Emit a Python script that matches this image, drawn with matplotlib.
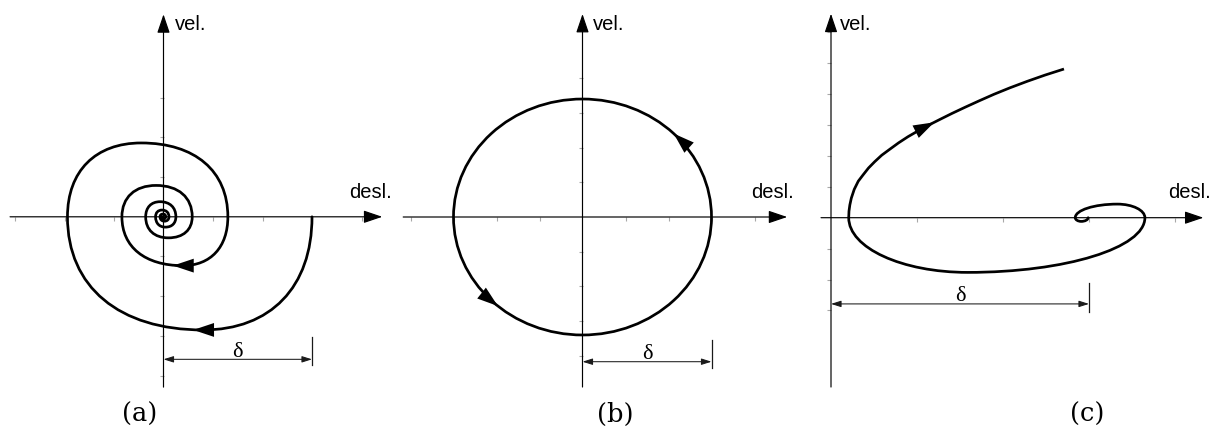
import numpy as np
import matplotlib.pyplot as plt
from matplotlib.path import Path
from matplotlib.patches import PathPatch, Ellipse

# (a) damped motion: x-axis crossings and the extreme point of each half-turn
a_cross = [3.0, -1.94, 1.30, -0.84, 0.58, -0.36, 0.25, -0.16, 0.11, -0.07, 0.045, -0.03]
a_peak_x = [0.80, -0.45, 0.39, -0.15, 0.10, -0.07, 0.04, -0.03, 0.02, -0.01, 0.005]
a_peak_y = [-2.85, 1.86, -1.23, 0.79, -0.53, 0.38, -0.26, 0.17, -0.11, 0.07, -0.045]
a_xticks = [-3, -2, -1, 1, 2, 3, 4]
a_yticks = [-4, -3, -2, -1, 1, 2, 3]

# (b) undamped motion: closed orbit, semi-axes in displacement / velocity
b_semi = [3.0, 3.4]
b_xticks = [-4, -3, -2, -1, 1, 2, 3, 4]
b_yticks = [-4, -3, -2, -1, 1, 2, 3, 4]

# (c) unstable motion: inner spiral around the shifted equilibrium, then escaping branch
c_cross = [2.99, 2.84, 3.65, 0.206]
c_peak_x = [2.91, 3.33, 1.59]
c_peak_y = [-0.12, 0.44, -1.77]
c_branch_x = [0.206, 0.209, 0.219, 0.236, 0.270, 0.317, 0.372, 0.436, 0.508, 0.590,
              0.683, 0.785, 0.895, 1.012, 1.134, 1.267, 1.407, 1.558, 1.721, 1.895,
              2.081, 2.279, 2.488, 2.709]
c_branch_y = [0.0, 0.210, 0.411, 0.631, 0.916, 1.181, 1.382, 1.608, 1.812, 2.023,
              2.214, 2.421, 2.621, 2.809, 2.994, 3.181, 3.375, 3.573, 3.780, 3.994,
              4.204, 4.411, 4.615, 4.812]
c_xticks = [1, 2, 3, 4]
c_yticks = [-3, -2, -1, 1, 2, 3, 4, 5, 6]

delta = [3.0, 3.0, 3.0]

W, H = 1216, 445
fig = plt.figure(figsize=(W / 100, H / 100), dpi=100)

CURVE_LW = 1.95
AXIS_LW = 0.85


def panel(x0, x1, ox, oy, ux, uy):
    ax = fig.add_axes([x0 / W, 0, (x1 - x0) / W, 1])
    ax.set_xlim((x0 - ox) / ux, (x1 - ox) / ux)
    ax.set_ylim((oy - H) / uy, oy / uy)
    ax.axis('off')
    return ax


def draw_axes(ax, xr, yr, xticks, yticks):
    ap = dict(arrowstyle='-|>,head_length=11.5,head_width=3.9', mutation_scale=1,
              lw=AXIS_LW, color='k', shrinkA=0, shrinkB=0)
    ax.annotate('', xy=(xr[1], 0), xytext=(xr[0], 0), arrowprops=ap)
    ax.annotate('', xy=(0, yr[1]), xytext=(0, yr[0]), arrowprops=ap)
    ax.plot(xticks, np.zeros(len(xticks)), ls='none', marker=3, ms=3.2, mew=0.8,
            color='#a8a8a8', zorder=1)
    ax.plot(np.zeros(len(yticks)), yticks, ls='none', marker=0, ms=3.2, mew=0.8,
            color='#a8a8a8', zorder=1)


def quarter_chain(cross, peak_x, peak_y, k):
    # smooth chain: vertical tangent at each crossing, horizontal at each extreme
    verts = [(cross[0], 0.0)]
    for i in range(len(peak_x)):
        x0, x1 = cross[i], cross[i + 1]
        px, py = peak_x[i], peak_y[i]
        verts += [(x0, k * py), (px + k * (x0 - px), py), (px, py)]
        verts += [(px + k * (x1 - px), py), (x1, k * py), (x1, 0.0)]
    codes = [Path.MOVETO] + [Path.CURVE4] * (len(verts) - 1)
    return Path(verts, codes)


def curve_arrow(ax, tip, direction):
    d = np.asarray(direction, float)
    tail = (tip[0] - 0.02 * d[0], tip[1] - 0.02 * d[1])
    ax.annotate('', xy=tip, xytext=tail,
                arrowprops=dict(arrowstyle='-|>,head_length=15,head_width=5',
                                mutation_scale=1, lw=0, color='k', shrinkA=0, shrinkB=0))


def dimension(ax, d, y, y_end):
    ax.annotate('', xy=(d, y), xytext=(0, y),
                arrowprops=dict(arrowstyle='<|-|>,head_length=6,head_width=1.9',
                                mutation_scale=1, lw=0.75, color='#1a1a1a',
                                shrinkA=0, shrinkB=0))
    ax.plot([d, d], y_end, lw=0.9, color='#1a1a1a')
    ax.annotate('δ', xy=(d / 2, y), xytext=(0, 2), textcoords='offset points',
                ha='center', va='baseline', fontsize=16, family='Liberation Serif')


def ftext(x, y, s, **kw):
    fig.text(x / W, 1 - y / H, s, **kw)


# (a)
ax_a = panel(0, 400, 163.5, 216.8, 49.5, 39.7)
draw_axes(ax_a, (-3.1, 4.42), (-4.29, 5.1), a_xticks, a_yticks)
ax_a.add_patch(PathPatch(quarter_chain(a_cross, a_peak_x, a_peak_y, 0.62), fill=False,
                         lw=CURVE_LW, color='k', capstyle='round', joinstyle='round'))
for i in (0, 2):
    curve_arrow(ax_a, (a_peak_x[i] - 0.2, a_peak_y[i]), (-1, 0))
dimension(ax_a, delta[0], -3.59, (-3.02, -3.73))

# (b)
ax_b = panel(400, 800, 582.5, 217, 43, 34.7)
draw_axes(ax_b, (-4.17, 4.76), (-4.9, 5.85), b_xticks, b_yticks)
ax_b.add_patch(Ellipse((0, 0), 2 * b_semi[0], 2 * b_semi[1], fill=False,
                       lw=CURVE_LW, color='k'))
for ang in (45, 229):
    t = np.radians(ang)
    curve_arrow(ax_b, (b_semi[0] * np.cos(t), b_semi[1] * np.sin(t)),
                (-b_semi[0] * np.sin(t), b_semi[1] * np.cos(t)))
dimension(ax_b, delta[1], -4.17, (-3.54, -4.35))

# (c)
ax_c = panel(800, 1216, 831, 217.7, 86, 30.9)
draw_axes(ax_c, (-0.116, 4.33), (-5.48, 6.6), c_xticks, c_yticks)
ax_c.add_patch(PathPatch(quarter_chain(c_cross, c_peak_x, c_peak_y, 0.5523), fill=False,
                         lw=CURVE_LW, color='k', capstyle='round', joinstyle='round'))
ax_c.plot(c_branch_x, c_branch_y, lw=CURVE_LW, color='k',
          solid_capstyle='butt', solid_joinstyle='round')
j = 14
tip = (c_branch_x[j] + 0.5 * (c_branch_x[j + 1] - c_branch_x[j]),
       c_branch_y[j] + 0.5 * (c_branch_y[j + 1] - c_branch_y[j]))
curve_arrow(ax_c, tip, (c_branch_x[j + 1] - c_branch_x[j], c_branch_y[j + 1] - c_branch_y[j]))
dimension(ax_c, delta[2], -2.79, (-2.11, -3.04))

# axis names and panel letters
for x in (175, 593, 840):
    ftext(x, 29.5, 'vel.', fontsize=14.5, family='Liberation Sans', va='baseline')
for x in (349, 751.5, 1168):
    ftext(x, 198, 'desl.', fontsize=14.5, family='Liberation Sans', va='baseline')
for x, s in ((140, '(a)'), (615, '(b)'), (1086.7, '(c)')):
    ftext(x, 414.5, s, fontsize=18.5, family='DejaVu Serif', ha='center', va='center')

fig.savefig('out.png', dpi=100)
